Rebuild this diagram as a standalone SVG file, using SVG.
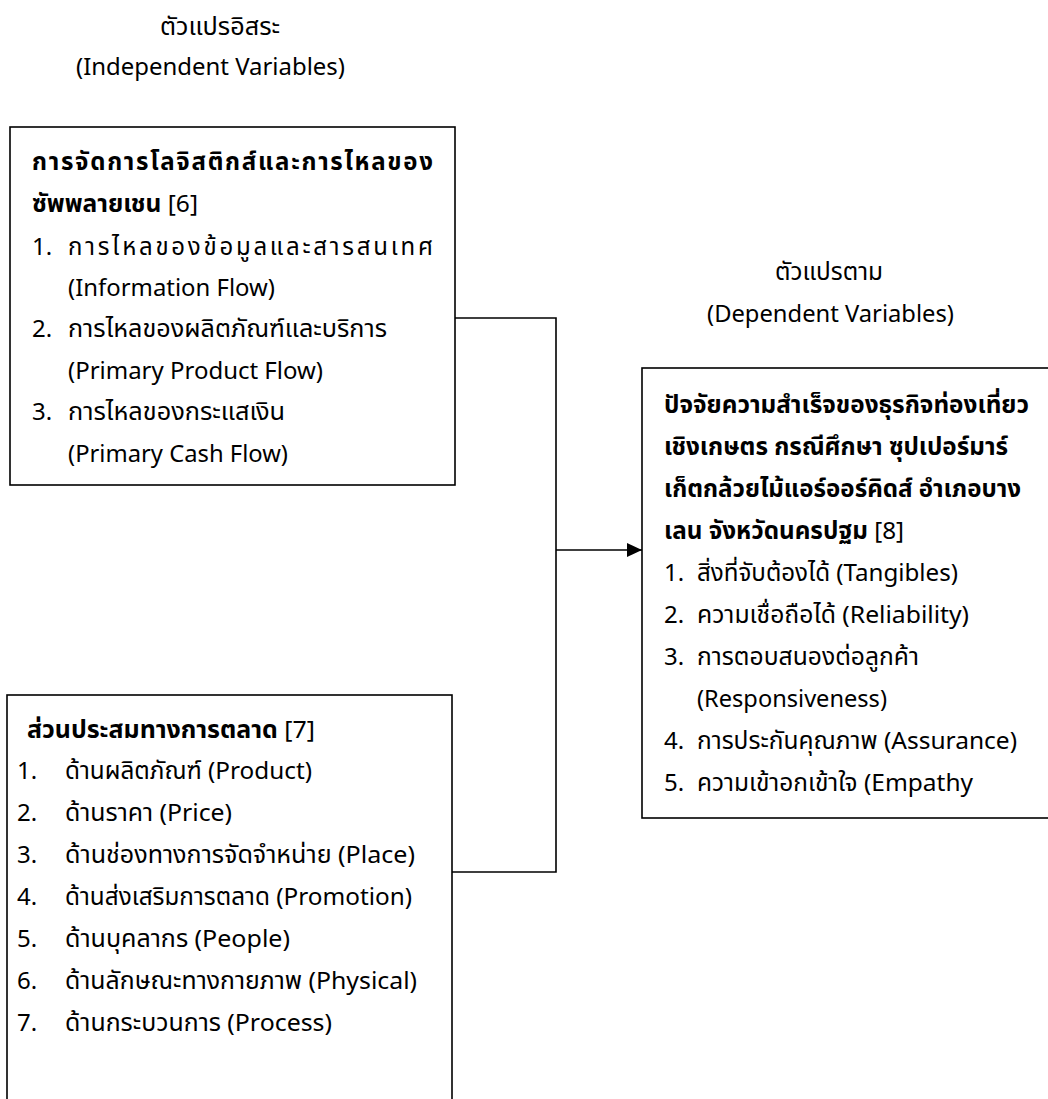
<svg xmlns="http://www.w3.org/2000/svg" width="1048" height="1099" viewBox="0 0 1048 1099">
<style>
text{font-family:"Noto Sans Thai","Noto Sans Thai UI","Noto Sans","DejaVu Sans",sans-serif;font-size:24px;fill:#000}
.b{font-weight:bold}
.box{fill:#fff;stroke:#000;stroke-width:1.6}
.ln{fill:none;stroke:#000;stroke-width:1.6}
</style>
<defs>
<marker id="ah" markerUnits="userSpaceOnUse" markerWidth="16" markerHeight="14" refX="15" refY="7" orient="auto">
<path d="M0,0 L15,7 L0,14 z" fill="#000"/>
</marker>
</defs>
<rect width="1048" height="1099" fill="#fff"/>
<g id="labels">
<text x="160" y="35" textLength="120" lengthAdjust="spacingAndGlyphs">ตัวแปรอิสระ</text>
<text x="76" y="75" textLength="269" lengthAdjust="spacingAndGlyphs">(Independent Variables)</text>
<text x="775" y="280" textLength="108" lengthAdjust="spacingAndGlyphs">ตัวแปรตาม</text>
<text x="707" y="322" textLength="247" lengthAdjust="spacingAndGlyphs">(Dependent Variables)</text>
</g>
<g id="connectors">
<polyline class="ln" points="455,318 556,318 556,872 451,872"/>
<line class="ln" x1="556" y1="550" x2="642" y2="550" marker-end="url(#ah)"/>
</g>
<g id="node-logistics">
<rect class="box" x="10" y="127" width="445" height="358"/>
<text class="b" x="32" y="170" textLength="401" lengthAdjust="spacing">การจัดการโลจิสติกส์และการไหลของ</text>
<text x="32" y="212" textLength="166" lengthAdjust="spacingAndGlyphs"><tspan class="b">ซัพพลายเชน</tspan> [6]</text>
<text x="32" y="255">1.</text><text x="68" y="255" textLength="365" lengthAdjust="spacing">การไหลของข้อมูลและสารสนเทศ</text>
<text x="68" y="296" textLength="207" lengthAdjust="spacingAndGlyphs">(Information Flow)</text>
<text x="32" y="337">2.</text><text x="68" y="337" textLength="319" lengthAdjust="spacingAndGlyphs">การไหลของผลิตภัณฑ์และบริการ</text>
<text x="68" y="379" textLength="255" lengthAdjust="spacingAndGlyphs">(Primary Product Flow)</text>
<text x="32" y="420">3.</text><text x="68" y="420" textLength="217" lengthAdjust="spacingAndGlyphs">การไหลของกระแสเงิน</text>
<text x="68" y="462" textLength="220" lengthAdjust="spacingAndGlyphs">(Primary Cash Flow)</text>
</g>
<g id="node-marketing">
<rect class="box" x="7" y="695" width="445" height="420"/>
<text x="27" y="738" textLength="288" lengthAdjust="spacingAndGlyphs"><tspan class="b">ส่วนประสมทางการตลาด</tspan> [7]</text>
<text x="17" y="779">1.</text><text x="65" y="779" textLength="247" lengthAdjust="spacingAndGlyphs">ด้านผลิตภัณฑ์ (Product)</text>
<text x="17" y="821">2.</text><text x="65" y="821" textLength="167" lengthAdjust="spacingAndGlyphs">ด้านราคา (Price)</text>
<text x="17" y="863">3.</text><text x="65" y="863" textLength="350" lengthAdjust="spacingAndGlyphs">ด้านช่องทางการจัดจำหน่าย (Place)</text>
<text x="17" y="905">4.</text><text x="65" y="905" textLength="347" lengthAdjust="spacingAndGlyphs">ด้านส่งเสริมการตลาด (Promotion)</text>
<text x="17" y="947">5.</text><text x="65" y="947" textLength="225" lengthAdjust="spacingAndGlyphs">ด้านบุคลากร (People)</text>
<text x="17" y="989">6.</text><text x="65" y="989" textLength="352" lengthAdjust="spacingAndGlyphs">ด้านลักษณะทางกายภาพ (Physical)</text>
<text x="17" y="1031">7.</text><text x="65" y="1031" textLength="267" lengthAdjust="spacingAndGlyphs">ด้านกระบวนการ (Process)</text>
</g>
<g id="node-success">
<rect class="box" x="642" y="368" width="420" height="450"/>
<text class="b" x="664" y="413" textLength="365" lengthAdjust="spacingAndGlyphs">ปัจจัยความสำเร็จของธุรกิจท่องเที่ยว</text>
<text class="b" x="664" y="455" textLength="344" lengthAdjust="spacingAndGlyphs">เชิงเกษตร กรณีศึกษา ซุปเปอร์มาร์</text>
<text class="b" x="664" y="497" textLength="357" lengthAdjust="spacingAndGlyphs">เก็ตกล้วยไม้แอร์ออร์คิดส์ อำเภอบาง</text>
<text x="664" y="539" textLength="240" lengthAdjust="spacingAndGlyphs"><tspan class="b">เลน จังหวัดนครปฐม</tspan> [8]</text>
<text x="664" y="581">1.</text><text x="697" y="581" textLength="261" lengthAdjust="spacingAndGlyphs">สิ่งที่จับต้องได้ (Tangibles)</text>
<text x="664" y="623">2.</text><text x="697" y="623" textLength="272" lengthAdjust="spacingAndGlyphs">ความเชื่อถือได้ (Reliability)</text>
<text x="664" y="665">3.</text><text x="697" y="665" textLength="222" lengthAdjust="spacingAndGlyphs">การตอบสนองต่อลูกค้า</text>
<text x="697" y="707" textLength="190" lengthAdjust="spacingAndGlyphs">(Responsiveness)</text>
<text x="664" y="749">4.</text><text x="697" y="749" textLength="320" lengthAdjust="spacingAndGlyphs">การประกันคุณภาพ (Assurance)</text>
<text x="664" y="791">5.</text><text x="697" y="791" textLength="276" lengthAdjust="spacingAndGlyphs">ความเข้าอกเข้าใจ (Empathy</text>
</g>
</svg>
